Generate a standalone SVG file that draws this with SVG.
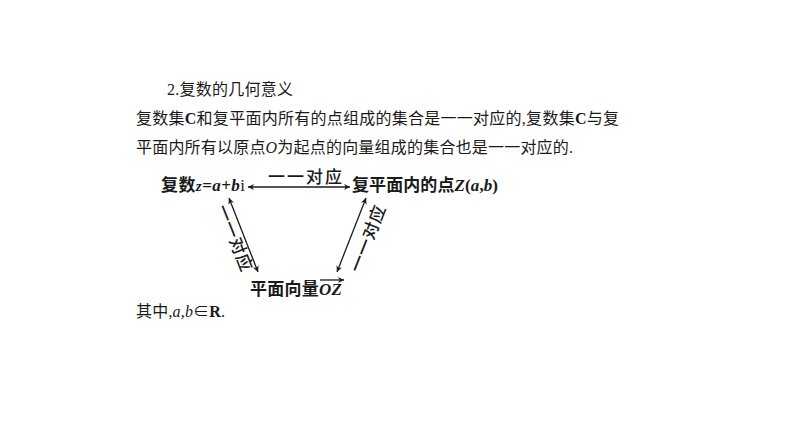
<svg xmlns="http://www.w3.org/2000/svg" width="794" height="447" viewBox="0 0 794 447">
<style>
 .p{font-family:"Liberation Serif","Noto Sans CJK SC",serif;font-size:16px;fill:#1a1a1a}
 .n{font-family:"Liberation Serif","Noto Sans CJK SC",serif;font-size:17px;font-weight:bold;fill:#1a1a1a}
 .l{font-family:"Liberation Serif","Noto Sans CJK SC",serif;font-size:17px;font-weight:500;fill:#1a1a1a}
 .i{font-style:italic}
 .b{font-weight:bold}
 .e{stroke:#1a1a1a;stroke-width:1.3;fill:none}
</style>
<defs>
 <marker id="ah" viewBox="0 0 10 10" refX="10" refY="5" markerWidth="8" markerHeight="6" orient="auto-start-reverse" markerUnits="userSpaceOnUse">
  <path d="M0,0 L10,5 L0,10 L3,5 z" fill="#1a1a1a"/>
 </marker>
</defs>
<rect width="794" height="447" fill="#ffffff"/>
<g id="paragraph">
 <text class="p" x="167" y="95" textLength="126">2.复数的几何意义</text>
 <text class="p" x="136" y="124" textLength="483">复数集<tspan class="b">C</tspan>和复平面内所有的点组成的集合是一一对应的,复数集<tspan class="b">C</tspan>与复</text>
 <text class="p" x="136" y="153" textLength="437">平面内所有以原点<tspan class="i">O</tspan>为起点的向量组成的集合也是一一对应的.</text>
 <text class="p" x="136" y="317" textLength="89">其中,<tspan class="i">a</tspan>,<tspan class="i">b</tspan>∈<tspan class="b">R</tspan>.</text>
</g>
<g id="node-complex">
 <text class="n" x="161" y="191" textLength="84">复数<tspan class="i" font-size="15">z</tspan>=<tspan class="i">a</tspan>+<tspan class="i">b</tspan><tspan font-weight="normal">i</tspan></text>
</g>
<g id="node-point">
 <text class="n" x="352" y="191" textLength="146">复平面内的点<tspan class="i">Z</tspan>(<tspan class="i">a</tspan>,<tspan class="i">b</tspan>)</text>
</g>
<g id="node-vector">
 <text class="n" x="250" y="295" textLength="92">平面向量<tspan class="i">OZ</tspan></text>
 <line class="e" x1="320" y1="280" x2="344" y2="280" marker-end="url(#ah)"/>
</g>
<g id="connectors">
 <line class="e" x1="248" y1="187" x2="350" y2="187" marker-start="url(#ah)" marker-end="url(#ah)"/>
 <line class="e" x1="229" y1="198" x2="258" y2="272" marker-start="url(#ah)" marker-end="url(#ah)"/>
 <line class="e" x1="366" y1="198" x2="337" y2="272" marker-start="url(#ah)" marker-end="url(#ah)"/>
 <text class="l" x="305" y="183" text-anchor="middle" textLength="74">一一对应</text>
 <text class="l" text-anchor="middle" dominant-baseline="central" transform="translate(234 238) rotate(68.6)" textLength="70">一一对应</text>
 <text class="l" text-anchor="middle" dominant-baseline="central" transform="translate(368 239) rotate(-68.6)" textLength="70">一一对应</text>
</g>
</svg>
